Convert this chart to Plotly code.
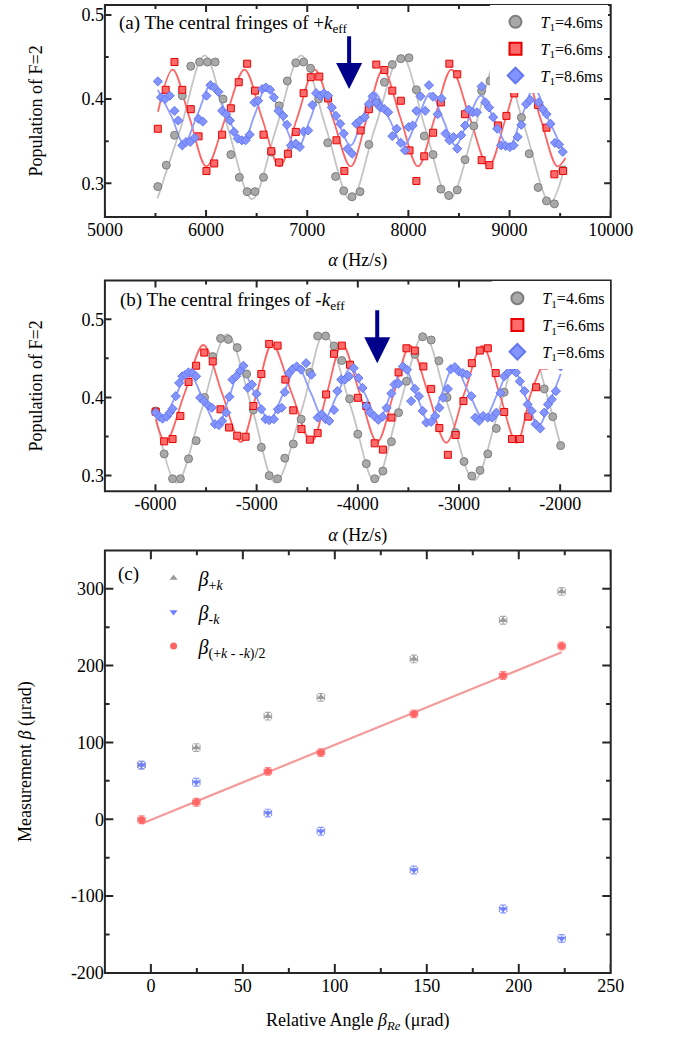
import plotly.graph_objects as go

FONT = "Liberation Serif, Times New Roman, serif"
W, H = 676, 1045

# ---------------- Panel (a): central fringes of +k_eff ----------------
ga_x = [5523, 5607, 5688, 5765, 5849, 5936, 6013, 6090, 6168, 6245, 6329, 6406, 6484, 6568, 6645,
        6722, 6803, 6887, 6964, 7033, 7113, 7203, 7280, 7361, 7444, 7522, 7609, 7683, 7763, 7841,
        7925, 8005, 8079, 8157, 8244, 8321, 8399, 8483, 8560, 8646, 8724, 8808, 8869, 8950, 9030,
        9117, 9194, 9282, 9365, 9443, 9526]
ga_y = [0.296, 0.3215, 0.357, 0.404, 0.439, 0.444, 0.444, 0.444, 0.400, 0.334, 0.307, 0.290, 0.290,
        0.307, 0.337, 0.392, 0.4215, 0.443, 0.444, 0.4365, 0.40, 0.348, 0.308, 0.291, 0.284, 0.290,
        0.346, 0.396, 0.420, 0.441, 0.448, 0.449, 0.411, 0.356, 0.334, 0.293, 0.2855, 0.292, 0.328,
        0.368, 0.410, 0.4215, 0.455, 0.45, 0.44, 0.378, 0.335, 0.295, 0.279, 0.2755, 0.3157]

ra_x = [5523, 5601, 5688, 5765, 5849, 5926, 6004, 6081, 6159, 6245, 6323, 6406, 6484, 6568, 6645,
        6722, 6809, 6887, 6964, 7035, 7119, 7206, 7289, 7367, 7528, 7609, 7683, 7763, 7841, 7925,
        8011, 8079, 8157, 8244, 8321, 8405, 8483, 8560, 8724, 8801, 8885, 8969, 9046, 9282, 9365,
        9443, 9529]
ra_y = [0.3647, 0.411, 0.444, 0.411, 0.388, 0.3557, 0.3145, 0.3235, 0.3577, 0.389, 0.420, 0.442,
        0.410, 0.3577, 0.338, 0.3247, 0.335, 0.361, 0.407, 0.426, 0.4267, 0.4008, 0.351, 0.3145,
        0.3627, 0.388, 0.441, 0.4345, 0.410, 0.398, 0.339, 0.3027, 0.332, 0.360, 0.396, 0.442,
        0.4294, 0.382, 0.3274, 0.3215, 0.3686, 0.380, 0.4067, 0.393, 0.366, 0.3106, 0.3145]

ba_x = [5523, 5555, 5595, 5641, 5688, 5725, 5765, 5802, 5843, 5886, 5926, 5967, 6004, 6044, 6081,
        6122, 6159, 6199, 6236, 6276, 6313, 6354, 6391, 6431, 6478, 6515, 6555, 6592, 6633, 6670,
        6716, 6763, 6800, 6840, 6887, 6927, 6964, 7010, 7051, 7088, 7128, 7165, 7206, 7243, 7284,
        7326, 7361, 7398, 7444, 7484, 7522, 7568, 7609, 7646, 7683, 7723, 7763, 7800, 7841, 7884,
        7925, 7965, 8002, 8042, 8079, 8120, 8166, 8203, 8244, 8290, 8327, 8367, 8405, 8445, 8483,
        8522, 8560, 8597, 8637, 8678, 8724, 8761, 8798, 8838, 8878, 8916, 8962, 9003, 9040, 9080,
        9117, 9164, 9204, 9241, 9287, 9328, 9365, 9405, 9449, 9489, 9526]
ba_y = [0.421, 0.402, 0.400, 0.404, 0.386, 0.3745, 0.345, 0.349, 0.349, 0.354, 0.3765, 0.3733, 0.404,
        0.4165, 0.4138, 0.4086, 0.386, 0.382, 0.3745, 0.361, 0.353, 0.351, 0.351, 0.3577, 0.396,
        0.398, 0.412, 0.4138, 0.411, 0.402, 0.386, 0.380, 0.3694, 0.345, 0.347, 0.343, 0.3615,
        0.3627, 0.393, 0.407, 0.404, 0.4067, 0.404, 0.390, 0.380, 0.3706, 0.359, 0.341, 0.335,
        0.3706, 0.3745, 0.3785, 0.394, 0.4032, 0.396, 0.390, 0.388, 0.3843, 0.356, 0.3647, 0.348,
        0.339, 0.3667, 0.3686, 0.386, 0.4032, 0.386, 0.4165, 0.4027, 0.382, 0.4008, 0.359, 0.351,
        0.355, 0.341, 0.357, 0.3686, 0.3875, 0.3843, 0.3843, 0.415, 0.396, 0.390, 0.3785, 0.3647,
        0.345, 0.3443, 0.343, 0.345, 0.355, 0.3694, 0.394, 0.399, 0.412, 0.396, 0.388, 0.382,
        0.3706, 0.348, 0.346, 0.3373]

# fitted fringe curves (a), read at extrema and mid-crossings
gfa_x = [5520, 5750, 5985, 6215, 6455, 6695, 6940, 7185, 7430, 7670, 7930, 8165, 8405, 8655,
         8900, 9150, 9400, 9550]
gfa_y = [0.282, 0.366, 0.452, 0.366, 0.281, 0.366, 0.452, 0.366, 0.280, 0.366, 0.452, 0.366,
         0.281, 0.366, 0.452, 0.366, 0.277, 0.322]
rfa_x = [5525, 5670, 5837, 6004, 6192, 6380, 6553, 6727, 6900, 7075, 7252, 7429, 7590, 7750,
         7922, 8095, 8260, 8425, 8608, 8792, 8963, 9135, 9304, 9473, 9553]
rfa_y = [0.385, 0.435, 0.3775, 0.320, 0.3775, 0.435, 0.3775, 0.320, 0.3775, 0.435, 0.3775, 0.320,
         0.3775, 0.435, 0.3775, 0.320, 0.3775, 0.435, 0.3775, 0.320, 0.3775, 0.435, 0.3775, 0.320,
         0.330]
bfa_x = [5523, 5660, 5781, 5916, 6050, 6205, 6360, 6480, 6600, 6751, 6902, 7026, 7150, 7290,
         7429, 7545, 7661, 7808, 7955, 8087, 8219, 8342, 8466, 8590, 8715, 8854, 8993, 9117,
         9241, 9380, 9520]
bfa_y = [0.411, 0.379, 0.347, 0.382, 0.417, 0.382, 0.348, 0.381, 0.415, 0.378, 0.341, 0.375,
         0.409, 0.377, 0.345, 0.377, 0.408, 0.377, 0.345, 0.376, 0.407, 0.376, 0.345, 0.375,
         0.404, 0.374, 0.343, 0.378, 0.4126, 0.377, 0.341]

# ---------------- Panel (b): central fringes of -k_eff ----------------
gb_x = [-5998, -5914, -5831, -5754, -5673, -5598, -5515, -5434, -5357, -5280, -5192, -5099, -5032,
        -4954, -4876, -4793, -4722, -4638, -4560, -4474, -4397, -4319, -4235, -4158, -4081, -4000,
        -3916, -3833, -3752, -3668, -3597, -3519, -3436, -3359, -3275, -3198, -3118, -3035, -2950,
        -2873, -2792, -2715, -2631, -2553, -2470, -2390, -2310, -2230, -2157, -2073, -1995]
gb_y = [0.3827, 0.3278, 0.296, 0.296, 0.3215, 0.3447, 0.40, 0.4523, 0.4755, 0.4742, 0.4637, 0.430,
        0.384, 0.3362, 0.300, 0.296, 0.3223, 0.3405, 0.3722, 0.432, 0.4785, 0.4785, 0.4658, 0.4472,
        0.3982, 0.353, 0.3152, 0.296, 0.3058, 0.3434, 0.3805, 0.4206, 0.455, 0.4776, 0.4734, 0.4468,
        0.40, 0.355, 0.318, 0.2995, 0.3067, 0.3278, 0.3603, 0.4067, 0.445, 0.475, 0.478, 0.455,
        0.4109, 0.3754, 0.3384]

rb_x = [-5998, -5914, -5831, -5754, -5673, -5598, -5518, -5434, -5357, -5273, -5192, -5109, -5032,
        -4954, -4876, -4793, -4716, -4638, -4557, -4474, -4397, -4313, -4235, -4158, -4077, -4000,
        -3916, -3833, -3752, -3668, -3597, -3519, -3436, -3352, -3275, -3194, -3110, -3033, -2956,
        -2873, -2794, -2715, -2637, -2553, -2476, -2398, -2315, -2237, -2157]
rb_y = [0.3818, 0.3438, 0.3468, 0.3763, 0.4197, 0.4405, 0.4573, 0.446, 0.3848, 0.3615, 0.351,
        0.3497, 0.389, 0.430, 0.4684, 0.4662, 0.4228, 0.3835, 0.3595, 0.346, 0.3544, 0.4038, 0.4557,
        0.4662, 0.4418, 0.3995, 0.389, 0.3413, 0.3333, 0.3742, 0.432, 0.4628, 0.4599, 0.4396, 0.4109,
        0.3608, 0.3266, 0.3519, 0.3953, 0.4438, 0.4599, 0.4628, 0.4311, 0.3814, 0.3468, 0.3468,
        0.3754, 0.413, 0.4409]

bb_x = [-5998, -5961, -5930, -5889, -5859, -5831, -5800, -5766, -5735, -5704, -5673, -5636, -5598,
        -5558, -5521, -5480, -5443, -5413, -5373, -5341, -5301, -5270, -5239, -5202, -5162, -5131,
        -5087, -5047, -5001, -4954, -4913, -4876, -4830, -4790, -4753, -4722, -4681, -4644, -4604,
        -4560, -4511, -4458, -4397, -4356, -4319, -4282, -4235, -4202, -4164, -4127, -4086, -4040,
        -3993, -3953, -3916, -3879, -3839, -3798, -3755, -3715, -3668, -3637, -3597, -3554, -3514,
        -3473, -3436, -3396, -3359, -3322, -3275, -3235, -3194, -3157, -3110, -3080, -3040, -3003,
        -2962, -2919, -2878, -2838, -2801, -2761, -2715, -2671, -2631, -2590, -2553, -2513, -2476,
        -2436, -2398, -2352, -2321, -2281, -2243, -2197, -2157, -2120, -2083, -2042, -1995]
bb_y = [0.3805, 0.3754, 0.3729, 0.3754, 0.3805, 0.3856, 0.4016, 0.4185, 0.427, 0.4291, 0.432,
        0.4311, 0.427, 0.3995, 0.3953, 0.3899, 0.3868, 0.3658, 0.3646, 0.37, 0.3805, 0.4008, 0.4228,
        0.427, 0.4342, 0.4405, 0.4122, 0.4165, 0.4046, 0.3848, 0.3722, 0.3709, 0.3722, 0.3848,
        0.3868, 0.4067, 0.4311, 0.4362, 0.4396, 0.4354, 0.4438, 0.4291, 0.3742, 0.3785, 0.3722,
        0.370, 0.3839, 0.408, 0.4228, 0.4228, 0.427, 0.4375, 0.4248, 0.4122, 0.389, 0.3805, 0.3763,
        0.3713, 0.3754, 0.3868, 0.4051, 0.4165, 0.4177, 0.4396, 0.4354, 0.3953, 0.4109, 0.4016,
        0.3827, 0.3678, 0.3687, 0.3763, 0.3868, 0.3995, 0.4109, 0.4362, 0.4387, 0.4333, 0.4311,
        0.4291, 0.4016, 0.3742, 0.370, 0.3763, 0.3742, 0.3742, 0.3805, 0.4058, 0.427, 0.432, 0.4396,
        0.432, 0.4206, 0.408, 0.3911, 0.3827, 0.3658, 0.3603, 0.3805, 0.3911, 0.3975, 0.408, 0.4396]

gfb_x = [-6005, -5791, -5540, -5292, -5045, -4815, -4550, -4330, -4065, -3830, -3595, -3347,
         -3100, -2850, -2600, -2347, -2095, -1990]
gfb_y = [0.382, 0.291, 0.386, 0.481, 0.386, 0.291, 0.386, 0.481, 0.386, 0.292, 0.386, 0.480,
         0.386, 0.294, 0.386, 0.480, 0.386, 0.335]
rfb_x = [-5998, -5899, -5713, -5527, -5341, -5155, -5000, -4846, -4652, -4458, -4306, -4155,
         -3981, -3808, -3645, -3482, -3304, -3126, -2948, -2770, -2600, -2429, -2290, -2157]
rfb_y = [0.372, 0.343, 0.405, 0.467, 0.405, 0.343, 0.405, 0.468, 0.405, 0.343, 0.405, 0.468,
         0.405, 0.343, 0.405, 0.466, 0.405, 0.342, 0.405, 0.466, 0.405, 0.342, 0.405, 0.448]
bfb_x = [-5998, -5930, -5800, -5673, -5530, -5388, -5270, -5155, -5015, -4876, -4736, -4597,
         -4465, -4334, -4202, -4071, -3932, -3793, -3669, -3545, -3421, -3297, -3173, -3049,
         -2902, -2755, -2615, -2476, -2345, -2213, -2100, -1995]
bfb_y = [0.378, 0.372, 0.402, 0.432, 0.398, 0.364, 0.401, 0.4375, 0.404, 0.371, 0.405, 0.4396,
         0.406, 0.372, 0.404, 0.4375, 0.405, 0.372, 0.406, 0.4396, 0.404, 0.368, 0.404, 0.4396,
         0.406, 0.372, 0.406, 0.4396, 0.402, 0.364, 0.395, 0.430]

arrow_a = (7414, 0.4765, 0.4118)     # x, tail y, tip y
arrow_b = (-3808, 0.5134, 0.4438)

# ---------------- Panel (c): measured beta ----------------
c_x = [-5.1, 24.7, 63.6, 92.4, 143.0, 191.5, 223.3]
beta_pk = [70.5, 93.3, 134.2, 158.7, 208.7, 259.1, 296.6]
beta_mk = [70.5, 48.1, 8.0, -15.7, -66.1, -116.9, -155.2]
beta_avg = [-0.6, 22.2, 62.3, 86.8, 137.2, 187.2, 225.5]
err_x = [2, 2, 2, 2, 2, 2, 2]
err_y = [5, 5, 5, 5, 5, 5, 5]
fit_x = [-5.1, 223.3]
fit_y = [-5.8, 217.3]

# ---------------- axes ----------------
xa_range = [5000, 10000]
xb_range = [-6500, -1500]
ya_range = [0.26, 0.5118]
yb_range = [0.28, 0.5494]
xc_range = [-25, 250]
yc_range = [-200, 350]
xa_tickvals = [5000, 6000, 7000, 8000, 9000, 10000]
xa_ticktext = ["5000", "6000", "7000", "8000", "9000", "10000"]
xa_minor = [5500, 6500, 7500, 8500, 9500]
xb_tickvals = [-6000, -5000, -4000, -3000, -2000]
xb_ticktext = ["-6000", "-5000", "-4000", "-3000", "-2000"]
xb_minor = [-5500, -4500, -3500, -2500]
pop_tickvals = [0.3, 0.4, 0.5]
pop_ticktext = ["0.3", "0.4", "0.5"]
pop_minor = [0.35, 0.45]
xc_tickvals = [0, 50, 100, 150, 200, 250]
xc_ticktext = ["0", "50", "100", "150", "200", "250"]
xc_minor = [25, 75, 125, 175, 225]
yc_tickvals = [-200, -100, 0, 100, 200, 300]
yc_ticktext = ["-200", "-100", "0", "100", "200", "300"]
yc_minor = [-150, -50, 50, 150, 250]

labels_T = ["<i>T</i><sub>1</sub>=4.6ms", "<i>T</i><sub>1</sub>=6.6ms", "<i>T</i><sub>1</sub>=8.6ms"]
labels_c = ["<i>β</i><sub>+<i>k</i></sub>", "<i>β</i><sub>-<i>k</i></sub>",
            "<i>β</i><sub>(+<i>k</i> - -<i>k</i>)/2</sub>"]

# ---------------- styles ----------------
GRAY = dict(symbol="circle", size=8, color="#a9a9a9", line=dict(color="#7d7d7d", width=1))
RED = dict(symbol="square", size=7, color="#ff6a6a", line=dict(color="#e60000", width=1))
BLUE = dict(symbol="diamond", size=7, color="#8494ff", line=dict(color="#6477f2", width=1))
FIT_COL = ["#c4c4c4", "#ff6464", "#8f9dff"]
AXCOL = "#262626"

fig = go.Figure()

panels = [
    ("x", "y", "legend",
     [(gfa_x, gfa_y), (rfa_x, rfa_y), (bfa_x, bfa_y)],
     [(ga_x, ga_y), (ra_x, ra_y), (ba_x, ba_y)]),
    ("x2", "y2", "legend2",
     [(gfb_x, gfb_y), (rfb_x, rfb_y), (bfb_x, bfb_y)],
     [(gb_x, gb_y), (rb_x, rb_y), (bb_x, bb_y)]),
]
for xa, ya, lg, fits, pts in panels:
    for (fx, fy), col in zip(fits, FIT_COL):
        fig.add_trace(go.Scatter(x=fx, y=fy, mode="lines", xaxis=xa, yaxis=ya,
                                 line=dict(color=col, width=1.8, shape="spline", smoothing=1.0),
                                 showlegend=False, hoverinfo="skip"))
    for (sx, sy), mk, name, grp in zip(pts, [GRAY, RED, BLUE], labels_T, ["g1", "g2", "g3"]):
        fig.add_trace(go.Scatter(x=sx, y=sy, mode="markers", xaxis=xa, yaxis=ya, marker=mk,
                                 name=name, legend=lg, legendgroup=lg + grp))

# panel (c)
fig.add_trace(go.Scatter(x=fit_x, y=fit_y, mode="lines", xaxis="x3", yaxis="y3",
                         line=dict(color="#f59a9a", width=2.2), showlegend=False))
c_series = [
    (beta_pk, "triangle-up", "#9a9a9a", "rgba(150,150,150,0.8)"),
    (beta_mk, "triangle-down", "#6f80ff", "rgba(110,128,255,0.8)"),
    (beta_avg, "circle", "#ff6565", "rgba(255,100,100,0.8)"),
]
for (sy, sym, col, ecol), name, grp in zip(c_series, labels_c, ["c1", "c2", "c3"]):
    fig.add_trace(go.Scatter(
        x=c_x, y=sy, mode="markers", xaxis="x3", yaxis="y3", name=name,
        legend="legend3", legendgroup=grp,
        marker=dict(symbol=sym, size=7, color=col, line=dict(width=0)),
        error_y=dict(type="data", array=err_y, color=ecol, thickness=1.2, width=3),
        error_x=dict(type="data", array=err_x, color=ecol, thickness=1.2, width=3)))

XDOM = [92.5 / W, 631 / W]
YDOM_A = [1 - 219 / H, 1 - 5 / H]
YDOM_B = [1 - 496 / H, 1 - 283.3 / H]
YDOM_C = [1 - 982.3 / H, 1 - 555.7 / H]

# inside tick marks on all four sides, drawn in each panel's own axis units
# (pixel lengths converted through the axis range and domain size)
axis_sets = [
    ("x", "y", YDOM_A, xa_range, ya_range, xa_tickvals, xa_minor, pop_tickvals, pop_minor, 7, 4),
    ("x2", "y2", YDOM_B, xb_range, yb_range, xb_tickvals, xb_minor, pop_tickvals, pop_minor, 7, 4),
    ("x3", "y3", YDOM_C, xc_range, yc_range, xc_tickvals, xc_minor, yc_tickvals, yc_minor, 9, 5),
]
for xr, yr, dom, xrng, yrng, xmaj, xmin, ymaj, ymin, LM, Lm in axis_sets:
    xu = (xrng[1] - xrng[0]) / ((XDOM[1] - XDOM[0]) * W)
    yu = (yrng[1] - yrng[0]) / ((dom[1] - dom[0]) * H)
    tx, ty = [], []
    for vals, L in ((xmaj, LM), (xmin, Lm)):
        for v in vals:
            tx += [v, v, None, v, v, None]
            ty += [yrng[0], yrng[0] + L * yu, None, yrng[1], yrng[1] - L * yu, None]
    for vals, L in ((ymaj, LM), (ymin, Lm)):
        for v in vals:
            tx += [xrng[0], xrng[0] + L * xu, None, xrng[1], xrng[1] - L * xu, None]
            ty += [v, v, None, v, v, None]
    fig.add_trace(go.Scatter(x=tx, y=ty, mode="lines", xaxis=xr, yaxis=yr,
                             line=dict(color=AXCOL, width=2), showlegend=False,
                             hoverinfo="skip", connectgaps=False))

tickfont = dict(family=FONT, size=18, color="black")
titlefont = dict(family=FONT, size=18, color="black")


def ax(rng, tv, tt, dom, anchor, title, standoff):
    return dict(range=rng, domain=dom, anchor=anchor, tickmode="array", tickvals=tv, ticktext=tt,
                showline=False, ticks="", showgrid=False, zeroline=False, tickfont=tickfont,
                title=dict(text=title, font=titlefont, standoff=standoff))


fig.update_layout(
    width=W, height=H, autosize=False,
    margin=dict(l=0, r=0, t=0, b=0),
    paper_bgcolor="white", plot_bgcolor="white",
    font=dict(family=FONT, color="black"),
    xaxis=ax(xa_range, xa_tickvals, xa_ticktext, XDOM, "y", "<i>α</i> (Hz/s)", 14),
    yaxis=ax(ya_range, pop_tickvals, pop_ticktext, YDOM_A, "x", "Population of F=2", 34),
    xaxis2=ax(xb_range, xb_tickvals, xb_ticktext, XDOM, "y2", "<i>α</i> (Hz/s)", 15),
    yaxis2=ax(yb_range, pop_tickvals, pop_ticktext, YDOM_B, "x2", "Population of F=2", 34),
    xaxis3=ax(xc_range, xc_tickvals, xc_ticktext, XDOM, "y3",
              "Relative Angle <i>β</i><sub><i>Re</i></sub> (μrad)", 18),
    yaxis3=ax(yc_range, yc_tickvals, yc_ticktext, YDOM_C, "x3",
              "Measurement <i>β</i> (μrad)", 34),
    legend=dict(x=503 / W, y=1 - 5 / H, xanchor="left", yanchor="top", bgcolor="white",
                borderwidth=0, font=dict(family=FONT, size=16), itemsizing="constant",
                tracegroupgap=3, itemwidth=40),
    legend2=dict(x=505 / W, y=1 - 284 / H, xanchor="left", yanchor="top", bgcolor="white",
                 borderwidth=0, font=dict(family=FONT, size=16), itemsizing="constant",
                 tracegroupgap=3, itemwidth=40),
    legend3=dict(x=139 / W, y=1 - 564 / H, xanchor="left", yanchor="top",
                 bgcolor="rgba(0,0,0,0)", borderwidth=0, font=dict(family=FONT, size=20),
                 tracegroupgap=5, itemwidth=40),
)

annos = [
    dict(x=105 / W, y=1 - 24 / H, xref="paper", yref="paper", xanchor="left", yanchor="middle",
         text="(a) The central fringes of +<i>k</i><sub>eff</sub>", showarrow=False,
         font=dict(family=FONT, size=19, color="black")),
    dict(x=106 / W, y=1 - 304 / H, xref="paper", yref="paper", xanchor="left", yanchor="middle",
         text="(b) The central fringes of -<i>k</i><sub>eff</sub>", showarrow=False,
         font=dict(family=FONT, size=19, color="black")),
    dict(x=118 / W, y=1 - 580 / H, xref="paper", yref="paper", xanchor="center", yanchor="middle",
         text="(c)", showarrow=False, font=dict(family=FONT, size=19, color="black")),
]
for (axx, y0, y1), xr, yr in [(arrow_a, "x", "y"), (arrow_b, "x2", "y2")]:
    annos.append(dict(x=axx, y=y1, ax=axx, ay=y0, xref=xr, yref=yr, axref=xr, ayref=yr,
                      text="", showarrow=True, arrowhead=2, arrowsize=1.3, arrowwidth=4,
                      arrowcolor="#00008b"))
fig.update_layout(annotations=annos)

# plot frames
shapes = []
for dom in (YDOM_A, YDOM_B, YDOM_C):
    shapes.append(dict(type="rect", xref="paper", yref="paper", x0=XDOM[0], x1=XDOM[1],
                       y0=dom[0], y1=dom[1], line=dict(color=AXCOL, width=2),
                       fillcolor="rgba(0,0,0,0)", layer="above"))
fig.update_layout(shapes=shapes)

fig.write_html("out.html")
